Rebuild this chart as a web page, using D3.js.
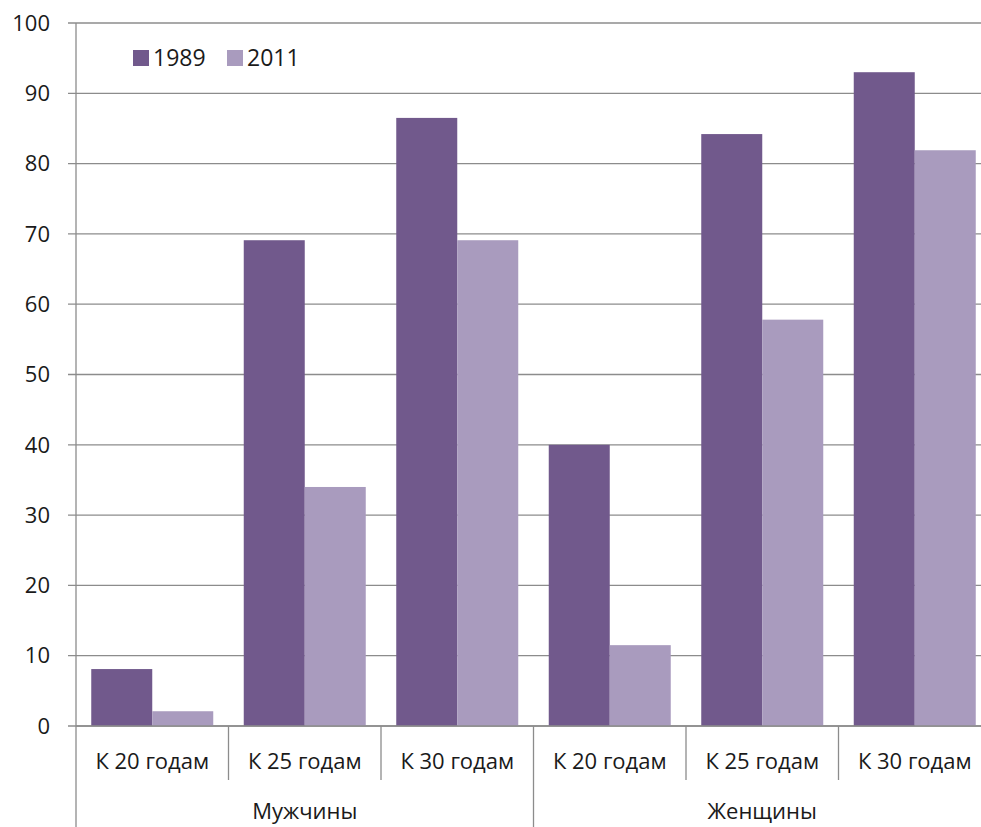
<!DOCTYPE html>
<html><head><meta charset="utf-8">
<script src="https://cdn.jsdelivr.net/npm/d3@7"></script>
<style>body{margin:0;background:#fff}svg{display:block}text{font-family:"Open Sans","Noto Sans",sans-serif;fill:#1a1a1a}</style>
</head><body><svg id="c" width="981" height="827"></svg>
<script>
const groups = ["Мужчины", "Женщины"];
const ages = ["К 20 годам", "К 25 годам", "К 30 годам"];
const seriesNames = ["1989", "2011"];
const values1989 = [8.1, 69.1, 86.5, 40.0, 84.2, 93.0];
const values2011 = [2.1, 34.0, 69.1, 11.5, 57.8, 81.9];
const yTicks = [0,10,20,30,40,50,60,70,80,90,100];
const colors = ["#71598c", "#a99bbe"];

(function(){
const svg = d3.select("#c");
const pL = 76, pR = 991, pT = 23, pB = 726;
const cats = [];
groups.forEach((g,gi)=>ages.forEach((a,ai)=>cats.push({g, a, id: gi*3+ai})));
const x = d3.scaleBand().domain(cats.map(c=>c.id)).range([pL,pR]).paddingInner(0).paddingOuter(0);
const y = d3.scaleLinear().domain([0,100]).range([pB,pT]);
const xs = d3.scaleBand().domain(seriesNames).range([0,x.bandwidth()]).paddingInner(0).paddingOuter(0.25);
const grid = "#8c8c8c";

svg.append("g").selectAll("line").data(yTicks).join("line")
  .attr("x1",68).attr("x2",981).attr("y1",d=>y(d)).attr("y2",d=>y(d))
  .attr("stroke",grid).attr("stroke-width",1.3);
svg.append("g").selectAll("text").data(yTicks).join("text")
  .attr("x",50).attr("y",d=>y(d)).attr("dy","0.35em").attr("text-anchor","end")
  .attr("font-size",22).text(d=>d);

const data = [values1989, values2011];
data.forEach((vals,si)=>{
  svg.append("g").selectAll("rect").data(cats).join("rect")
    .attr("x",c=>x(c.id)+xs(seriesNames[si]))
    .attr("width",xs.bandwidth())
    .attr("y",c=>y(vals[c.id]))
    .attr("height",c=>y(0)-y(vals[c.id]))
    .attr("fill",colors[si]);
});

svg.append("line").attr("x1",pL).attr("x2",pL).attr("y1",pT).attr("y2",827).attr("stroke",grid).attr("stroke-width",1.3);
svg.append("line").attr("x1",pL).attr("x2",981).attr("y1",pB).attr("y2",pB).attr("stroke",grid).attr("stroke-width",1.3);
cats.slice(1).forEach(c=>{
  const xx = x(c.id);
  const isGroup = c.id % 3 === 0;
  svg.append("line").attr("x1",xx).attr("x2",xx).attr("y1",pB).attr("y2",isGroup?827:780)
    .attr("stroke",grid).attr("stroke-width",1.3);
});
svg.append("g").selectAll("text").data(cats).join("text")
  .attr("x",c=>x(c.id)+x.bandwidth()/2).attr("y",761).attr("dy","0.35em")
  .attr("text-anchor","middle").attr("font-size",22).text(c=>c.a);
svg.append("g").selectAll("text").data(groups).join("text")
  .attr("x",(g,i)=>x(i*3)+x.bandwidth()*1.5).attr("y",811).attr("dy","0.35em")
  .attr("text-anchor","middle").attr("font-size",22).text(d=>d);

const lg = svg.append("g");
const legX = [133, 227];
seriesNames.forEach((s,i)=>{
  lg.append("rect").attr("x",legX[i]).attr("y",50).attr("width",16).attr("height",16).attr("fill",colors[i]);
  lg.append("text").attr("x",legX[i]+20).attr("y",58).attr("dy","0.35em").attr("font-size",23).text(s);
});
})();
</script></body></html>
